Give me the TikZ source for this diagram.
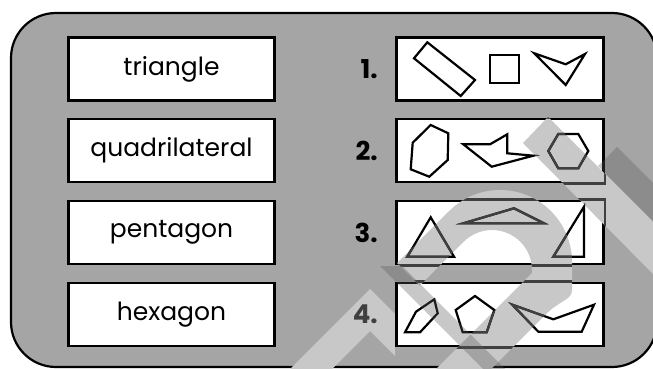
\documentclass[tikz,border=0pt]{standalone}
\usepackage{fontspec}
\setmainfont{Poppins}
\definecolor{panelgray}{RGB}{165,165,165}
\definecolor{wmlight}{RGB}{200,200,200}
\definecolor{wmdark}{RGB}{90,90,90}
\definecolor{wmline}{RGB}{64,64,64}
\definecolor{numgray}{RGB}{64,64,64}
\newcommand\wmA{(523,143) -- (548,117) -- (665,234) -- (665,286) -- cycle}
\newcommand\wmB{(397,263) -- (449.1,211.1) arc[start angle=225,end angle=360,radius=72] -- (572,290) .. controls (572,300) and (560,300) .. (545,315) -- (480,380) -- (425,380) -- (532,273) -- (532,270) arc[start angle=0,end angle=-135,radius=40] -- (419.7,285.7) -- cycle}
\newcommand\wmC{(380,266) -- (402,266) -- (530,394) -- (508,394) -- cycle}
\newcommand\wmD{(598,166) -- (617,147) -- (665,195) -- (665,233) -- cycle}
\newcommand\wmE{(290,369) -- (370,289) -- (395,314) -- (395,356) -- (370,331) -- (332,369) -- cycle}
\newcommand\drawshapes[1]{%
  \draw[#1] (414,58.3) -- (427.3,42.3) -- (475,80) -- (460.7,96) -- cycle;
  \draw[#1] (490,55) rectangle (519.3,83.3);
  \draw[#1] (534.3,53.3) -- (565.7,64.3) -- (585,54) -- (565.7,85) -- cycle;
  \draw[#1] (430.7,125) -- (448.3,133.3) -- (447.7,160) -- (429.3,176.7) -- (410.7,169.3) -- (412.7,142.7) -- cycle;
  \draw[#1] (463.3,144.3) -- (490,144.3) -- (507.3,134.3) -- (507.3,153.3) -- (533.3,155.7) -- (491.7,166.7) -- cycle;
  \draw[#1] (558.3,134) -- (578.3,134) -- (588.3,151) -- (578.3,168.3) -- (558.3,168.3) -- (548.3,151) -- cycle;
  \draw[#1] (430.7,217.3) -- (454,256.7) -- (407.3,256.7) -- cycle;
  \draw[#1] (463.3,223.3) -- (514,208.3) -- (544,223.3) -- cycle;
  \draw[#1] (584,206.7) -- (584,256.7) -- (553.3,256.7) -- cycle;
  \draw[#1] (405,332.3) -- (416,311.7) -- (434.3,299.3) -- (437.7,313.3) -- (420,332.3) -- cycle;
  \draw[#1] (475,296) -- (494.3,310) -- (486.7,332.3) -- (462.7,332.3) -- (455.7,310) -- cycle;
  \draw[#1] (512.3,304.7) -- (553.3,319.3) -- (594,304.7) -- (581.7,331.7) -- (538.3,331.7) -- cycle;
}
\tikzset{
  panel/.style={draw=black, line width=2.2pt, fill=panelgray, rounded corners=45pt},
  namebox/.style={draw=black, line width=2.6pt, fill=white, minimum width=206pt, minimum height=63pt, inner sep=0pt, font=\fontsize{25}{25}\selectfont},
  picbox/.style={draw=black, line width=2.6pt, fill=white, minimum width=207pt, minimum height=63pt, inner sep=0pt},
  numlabel/.style={anchor=east, inner sep=0pt, font=\fontsize{26}{26}\selectfont\bfseries},
  artline/.style={draw=black, line width=2.2pt, line join=miter},
  artgray/.style={draw=wmline, line width=2.2pt, line join=miter},
  boxgray/.style={draw=wmline, line width=2.6pt}
}
\begin{document}
\begin{tikzpicture}[x=1pt,y=-1pt]
\useasboundingbox (0,0) rectangle (653,369);
\path[panel] (11,13) rectangle (657,367);
\fill[wmlight] \wmE;
\node[namebox] (n1) at (171.5,69) {triangle};
\node[namebox] (n2) at (171.5,150.5) {quadrilateral};
\node[namebox] (n3) at (171.5,232.5) {pentagon};
\node[namebox] (n4) at (171.5,314.5) {hexagon};
\node[picbox] (p1) at (500,69) {};
\node[picbox] (p2) at (500,150.5) {};
\node[picbox] (p3) at (500,232.5) {};
\node[picbox] (p4) at (500,314.5) {};
\node[numlabel] (k1) at (378,69) {1.};
\node[numlabel] (k2) at (378,150.5) {2.};
\node[numlabel] (k3) at (378,232.5) {3.};
\node[numlabel, text=numgray] (k4) at (378,314.5) {4.};
\fill[wmlight] \wmA;
\fill[wmlight] \wmB;
\drawshapes{artline}
\begin{scope}
  \clip \wmA \wmB;
  \drawshapes{artgray}
  \draw[boxgray] (p2.north west) rectangle (p2.south east);
  \draw[boxgray] (p3.north west) rectangle (p3.south east);
  \draw[boxgray] (p4.north west) rectangle (p4.south east);
\end{scope}
\fill[wmdark, opacity=0.33] \wmC;
\fill[wmdark, opacity=0.33] \wmD;
\end{tikzpicture}
\end{document}
